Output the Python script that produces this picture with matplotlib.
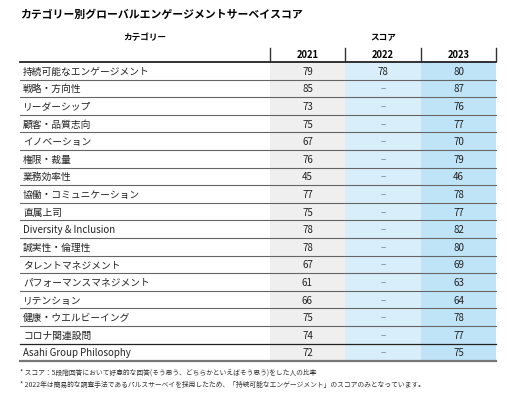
import matplotlib
matplotlib.use("Agg")
import matplotlib.pyplot as plt
from matplotlib.patches import Rectangle

plt.rcParams['font.family'] = ['Noto Sans CJK JP', 'DejaVu Sans']

title = "カテゴリー別グローバルエンゲージメントサーベイスコア"
categories = ["持続可能なエンゲージメント", "戦略・方向性", "リーダーシップ", "顧客・品質志向",
              "イノベーション", "権限・裁量", "業務効率性", "協働・コミュニケーション", "直属上司",
              "Diversity & Inclusion", "誠実性・倫理性", "タレントマネジメント",
              "パフォーマンスマネジメント", "リテンション", "健康・ウエルビーイング",
              "コロナ関連設問", "Asahi Group Philosophy"]
years = ["2021", "2022", "2023"]
v2021 = [79, 85, 73, 75, 67, 76, 45, 77, 75, 78, 78, 67, 61, 66, 75, 74, 72]
v2022 = [78] + [None] * 16
v2023 = [80, 87, 76, 77, 70, 79, 46, 78, 77, 82, 80, 69, 63, 64, 78, 77, 75]
notes = ["* スコア：5段階回答において好意的な回答(そう思う、どちらかといえばそう思う)をした人の比率",
         "* 2022年は簡易的な調査手法であるパルスサーベイを採用したため、「持続可能なエンゲージメント」のスコアのみとなっています。"]

fig = plt.figure(figsize=(5.08, 4.06), dpi=100)
ax = fig.add_axes([0, 0, 1, 1])
ax.set_xlim(0, 508); ax.set_ylim(406, 0); ax.axis('off')

ax.text(20, 15, title, fontsize=7.8, fontweight='bold', va='center')
ax.text(145, 38, "カテゴリー", fontsize=6.2, fontweight='bold', ha='center', va='center')
ax.text(383, 38, "スコア", fontsize=6.2, fontweight='bold', ha='center', va='center')

cols = [(270, 345), (345, 421), (421, 496)]
colors = ["#efefef", "#d8eefa", "#bfe4f8"]
top, rh = 63, 17.6
n = len(categories)
for (x0, x1), c in zip(cols, colors):
    ax.add_patch(Rectangle((x0, top), x1 - x0, rh * n, color=c, lw=0, zorder=0))
for i, y in enumerate(years):
    x0, x1 = cols[i]
    ax.text((x0 + x1) / 2, 55, y, fontsize=6.8, fontweight='bold', ha='center', va='center')
    ax.plot([x0, x0], [49, 62], color='#333333', lw=1)
ax.plot([496, 496], [49, 62], color='#333333', lw=1)
ax.plot([20, 496], [63, 63], color='#222222', lw=1.3)

for r, cat in enumerate(categories):
    yc = top + rh * (r + 0.5)
    ax.text(23, yc, cat, fontsize=7, va='center', color='#222222')
    for i, vals in enumerate([v2021, v2022, v2023]):
        v = vals[r]
        ax.text(sum(cols[i]) / 2, yc, "–" if v is None else str(v), fontsize=7,
                ha='center', va='center', color='#222222' if v is not None else '#888888')
    yb = top + rh * (r + 1)
    if r == n - 1:
        ax.plot([20, 496], [yb, yb], color='#777777', lw=1.6)
    elif r == n - 2:
        ax.plot([20, 496], [yb, yb], color='#222222', lw=0.9)
    else:
        ax.plot([20, 496], [yb, yb], color='#666666', lw=0.8)

ax.text(20, 373, notes[0], fontsize=4.9, va='center', color='#333333')
ax.text(20, 385, notes[1], fontsize=4.9, va='center', color='#333333')
fig.savefig("out.png", dpi=100)
